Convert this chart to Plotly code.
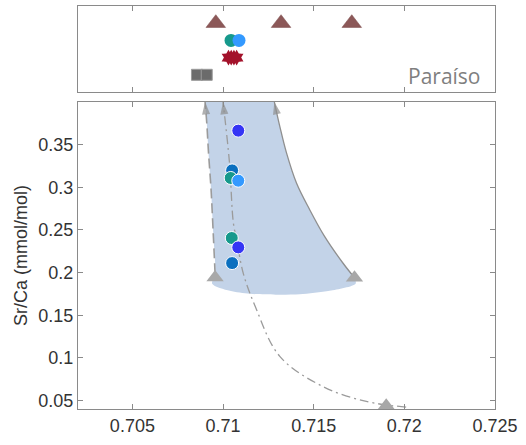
import plotly.graph_objects as go

# ---------------- data ----------------
# top panel (Paraíso) : 87Sr/86Sr of different materials
top_tri_x = [0.7096, 0.7132, 0.7171]
top_tri_y = [4, 4, 4]
top_circ_x = [0.71044, 0.71088]
top_circ_y = [3, 3]
top_circ_colors = ["#16998C", "#3399FF"]
top_star_x = [0.71030, 0.71045, 0.71060, 0.71075]
top_star_y = [2, 2, 2, 2]
top_sq_x = [0.70856, 0.70910]
top_sq_y = [1, 1]

# bottom panel samples
samp_x = [0.71084, 0.71050, 0.71042, 0.71084, 0.71048, 0.71084, 0.71050]
samp_y = [0.3664, 0.3198, 0.3109, 0.3077, 0.2405, 0.2295, 0.2111]
samp_colors = ["#3535F5", "#0A6FBF", "#16998C", "#3399FF", "#16998C", "#3535F5", "#0A6FBF"]

# end members
end_x = [0.70956, 0.71725, 0.7190]
end_y = [0.1943, 0.1940, 0.0438]

# mixing curves
left_x = [0.70956, 0.70945, 0.70934, 0.70920, 0.70910, 0.70901]
left_y = [0.1990, 0.2500, 0.2970, 0.3400, 0.3760, 0.4000]
mid_x = [0.72010, 0.71790, 0.71550, 0.71313, 0.71180, 0.71112, 0.71075, 0.71057, 0.71035, 0.71000]
mid_y = [0.0422, 0.0489, 0.0664, 0.1017, 0.1590, 0.1987, 0.2385, 0.2580, 0.3300, 0.4000]
right_x = [0.71725, 0.71661, 0.71560, 0.71478, 0.71405, 0.71350, 0.71313, 0.71286, 0.71283]
right_y = [0.1939, 0.2112, 0.2424, 0.2737, 0.3050, 0.3403, 0.3715, 0.3970, 0.4000]

# envelope bottom arc
arc_x = [0.70940, 0.71038, 0.71148, 0.71291, 0.71423, 0.71588, 0.71731]
arc_y = [0.1870, 0.1786, 0.1751, 0.1740, 0.1745, 0.1786, 0.1869]

x_ticks = [0.705, 0.710, 0.715, 0.720, 0.725]
x_ticktext = ["0.705", "0.71", "0.715", "0.72", "0.725"]
y_ticks = [0.05, 0.10, 0.15, 0.20, 0.25, 0.30, 0.35]
y_ticktext = ["0.05", "0.1", "0.15", "0.2", "0.25", "0.3", "0.35"]

GRAY_LINE = "#9B9B9B"
AXIS = "#8A8A8A"

fig = go.Figure()

# shaded envelope
env_x = left_x[::-1] + arc_x + right_x
env_y = left_y[::-1] + arc_y + right_y
fig.add_trace(go.Scatter(x=env_x, y=env_y, mode="lines", fill="toself",
                         fillcolor="#C3D3E8",
                         line=dict(width=0, color="#C3D3E8", shape="spline", smoothing=0.8),
                         xaxis="x", yaxis="y", hoverinfo="skip"))

# mixing lines
fig.add_trace(go.Scatter(x=left_x, y=left_y, mode="lines",
                         line=dict(color=GRAY_LINE, width=1.6, dash="10px,5px",
                                   shape="spline", smoothing=1),
                         xaxis="x", yaxis="y"))
fig.add_trace(go.Scatter(x=mid_x, y=mid_y, mode="lines",
                         line=dict(color=GRAY_LINE, width=1.3, dash="9px,4px,2px,4px",
                                   shape="spline", smoothing=1),
                         xaxis="x", yaxis="y"))
fig.add_trace(go.Scatter(x=right_x, y=right_y, mode="lines",
                         line=dict(color="#8F8F8F", width=1.3, shape="spline", smoothing=1),
                         xaxis="x", yaxis="y"))

# arrow heads at the top of the curves
for cx, cy in [(left_x, left_y), (mid_x, mid_y), (right_x, right_y)]:
    fig.add_trace(go.Scatter(x=cx[-2:], y=cy[-2:], mode="markers",
                             marker=dict(symbol="arrow", size=[0, 13], color="#8F8F8F",
                                         angleref="previous", line=dict(width=0)),
                             cliponaxis=False, xaxis="x", yaxis="y"))

# end members
fig.add_trace(go.Scatter(x=end_x, y=end_y, mode="markers",
                         marker=dict(symbol="triangle-up", size=15, color="#A8A8A8",
                                     line=dict(width=0)),
                         cliponaxis=False, xaxis="x", yaxis="y"))

# samples
fig.add_trace(go.Scatter(x=samp_x, y=samp_y, mode="markers",
                         marker=dict(symbol="circle", size=13, color=samp_colors,
                                     line=dict(color="white", width=1)),
                         xaxis="x", yaxis="y"))

# ---- top panel ----
fig.add_trace(go.Scatter(x=top_tri_x, y=top_tri_y, mode="markers",
                         marker=dict(symbol="triangle-up", size=17, color="#8C5858",
                                     line=dict(width=0.5, color="#7A4848")),
                         xaxis="x2", yaxis="y2"))
fig.add_trace(go.Scatter(x=top_sq_x, y=top_sq_y, mode="markers",
                         marker=dict(symbol="square", size=11, color="#6B6B6B",
                                     line=dict(width=1, color="#9A9A9A")),
                         xaxis="x2", yaxis="y2"))
fig.add_trace(go.Scatter(x=top_star_x, y=top_star_y, mode="markers",
                         marker=dict(symbol="hexagram", size=12, color="#A3122B",
                                     line=dict(width=0)),
                         xaxis="x2", yaxis="y2"))
fig.add_trace(go.Scatter(x=top_circ_x, y=top_circ_y, mode="markers",
                         marker=dict(symbol="circle", size=13, color=top_circ_colors,
                                     line=dict(width=0)),
                         xaxis="x2", yaxis="y2"))

fig.add_annotation(text="Paraíso", x=0.972, y=0.93, xref="x2 domain", yref="y2",
                   xanchor="right", yanchor="middle", showarrow=False,
                   font=dict(family="Open Sans", size=21, color="#7F7F7F"))

axis_common = dict(showline=True, linecolor=AXIS, linewidth=1, mirror="ticks",
                   ticks="inside", ticklen=5, tickcolor=AXIS, showgrid=False,
                   zeroline=False)

fig.update_layout(
    width=526, height=445,
    margin=dict(l=78, r=31, t=6, b=36),
    paper_bgcolor="white", plot_bgcolor="white",
    showlegend=False,
    font=dict(family="Liberation Sans, Arial", size=18, color="#333333"),
    xaxis=dict(domain=[0, 1], range=[0.702, 0.725], tickvals=x_ticks, ticktext=x_ticktext,
               anchor="y", **axis_common),
    yaxis=dict(domain=[0, 0.7618], range=[0.04, 0.40], tickvals=y_ticks, ticktext=y_ticktext,
               title=dict(text="Sr/Ca (mmol/mol)", standoff=6, font=dict(size=18)),
               anchor="x", **axis_common),
    xaxis2=dict(domain=[0, 1], range=[0.702, 0.725], tickvals=x_ticks, showticklabels=False,
                anchor="y2", matches="x", **axis_common),
    yaxis2=dict(domain=[0.7866, 1.0], range=[0, 5], showticklabels=False,
                showline=True, linecolor=AXIS, linewidth=1, mirror=True, ticks="",
                showgrid=False, zeroline=False, anchor="x2"),
)

fig.write_html("out.html")
